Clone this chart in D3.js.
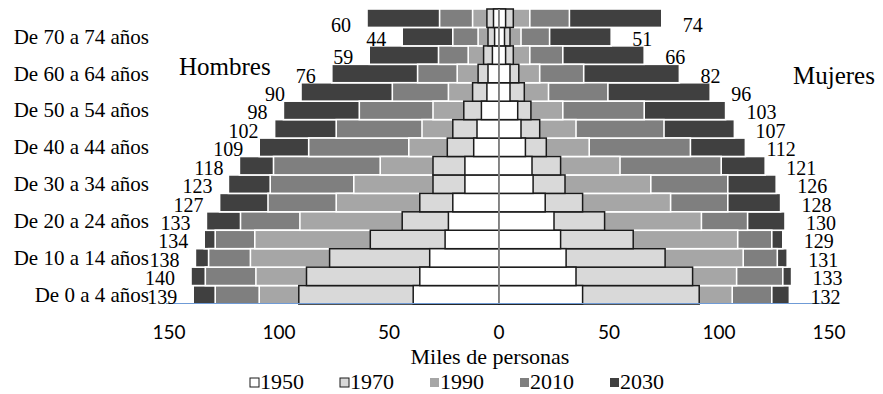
<!DOCTYPE html>
<html>
<head>
<meta charset="utf-8">
<script src="https://cdn.jsdelivr.net/npm/d3@7"></script>
<style>
  body { margin: 0; background: #fff; }
  svg { display: block; }
  text { font-family: "Liberation Serif", "Times New Roman", serif; fill: #000; }
  .tick-label { font-family: Lato, "Liberation Sans", sans-serif; }
</style>
</head>
<body>
<svg class="pyramid" width="883" height="394"></svg>
<script>
// age groups, bottom to top
const ages = ["De 0 a 4 años", "De 5 a 9 años", "De 10 a 14 años", "De 15 a 19 años",
    "De 20 a 24 años", "De 25 a 29 años", "De 30 a 34 años", "De 35 a 39 años",
    "De 40 a 44 años", "De 45 a 49 años", "De 50 a 54 años", "De 55 a 59 años",
    "De 60 a 64 años", "De 65 a 69 años", "De 70 a 74 años", "75 años y más"];
const years = ["1950", "1970", "1990", "2010", "2030"];

// thousands of people, same order as ages
const men1950 = [39, 36, 31.5, 24.5, 23, 21, 15.5, 15.5, 11.5, 10, 8, 5.5, 5, 3, 2, 2.5];
const men1970 = [91, 87.5, 77, 58.5, 44, 36, 30, 30, 23.5, 21, 16, 12, 9.5, 7, 5, 5.5];
const men1990 = [109, 110.5, 113, 111, 90.5, 74, 66, 54, 41, 35, 30, 23, 19, 14, 9.5, 12];
const men2010 = [129, 133.5, 132, 129, 117.5, 105, 104, 102.5, 86.5, 74, 63.5, 48.5, 37, 27.5, 21, 27];
const men2030 = [139, 140, 138, 134, 133, 127, 123, 118, 109, 102, 98, 90, 76, 59, 44, 60];

const women1950 = [38, 35, 30.5, 28, 25, 21, 15.5, 15, 12, 10, 8.5, 5, 5, 3, 2.5, 3];
const women1970 = [91, 88, 75.5, 61, 48, 38, 30, 28, 21.5, 18.5, 14.5, 11.5, 9, 6.5, 5, 6.5];
const women1990 = [106, 108, 111, 108.5, 92, 78, 69, 55, 41, 35, 29, 22.5, 18.5, 14, 10, 14];
const women2010 = [124, 129, 126.5, 124, 113, 104, 104, 101, 87, 75, 66, 49.5, 38.5, 29, 23, 32];
const women2030 = [132, 133, 131, 129, 130, 128, 126, 121, 112, 107, 103, 96, 82, 66, 51, 74];

const xTicks = [-150, -100, -50, 0, 50, 100, 150];
const fills = { "1950": "#ffffff", "1970": "#d9d9d9", "1990": "#a6a6a6", "2010": "#7f7f7f", "2030": "#404040" };

var svg = d3.select("svg.pyramid");

var x = d3.scaleLinear().domain([-150, 150]).range([169, 829]);
var y = d3.scaleBand().domain(ages.slice().reverse()).range([9, 304]).padding(0);

var men = { "1950": men1950, "1970": men1970, "1990": men1990, "2010": men2010, "2030": men2030 };
var women = { "1950": women1950, "1970": women1970, "1990": women1990, "2010": women2010, "2030": women2030 };

// rows for one year: left bar (negative) and right bar
function rowsFor(yr) {
    var out = [];
    ages.forEach(function (a, i) {
        out.push({ age: a, year: yr, v: -men[yr][i] });
        out.push({ age: a, year: yr, v: women[yr][i] });
    });
    return out;
}

function outlined(yr) {
    return yr == "1950" || yr == "1970";
}

// bars overlap from the centre, so the latest (largest) goes at the back
var bars = svg.append("g").attr("class", "bars");
years.slice().reverse().forEach(function (yr) {
    bars.append("g")
        .selectAll("rect")
        .data(rowsFor(yr))
        .enter().append("rect")
        .attr("x", (d) => Math.min(x(0), x(d.v)))
        .attr("y", (d) => y(d.age))
        .attr("width", (d) => Math.abs(x(d.v) - x(0)))
        .attr("height", y.bandwidth())
        .attr("fill", fills[yr])
        .attr("stroke", outlined(yr) ? "#1a1a1a" : "#ffffff")
        .attr("stroke-width", outlined(yr) ? 1.5 : 1.6);
});

// vertical axis line through the middle
svg.append("line")
    .attr("x1", x(0)).attr("x2", x(0))
    .attr("y1", y.range()[0]).attr("y2", y.range()[1])
    .attr("stroke", "#a0a0a0")
    .attr("stroke-width", 1.5);

// bottom axis
svg.append("line")
    .attr("x1", x(-150) - 3).attr("x2", x(150) + 3)
    .attr("y1", y.range()[1] - 0.5).attr("y2", y.range()[1] - 0.5)
    .attr("stroke", "#6f9bd6")
    .attr("stroke-width", 1.2);

svg.append("g")
    .selectAll("text")
    .data(xTicks)
    .enter().append("text")
    .attr("class", "tick-label")
    .attr("x", (d) => x(d))
    .attr("y", 339)
    .attr("text-anchor", "middle")
    .style("font-size", "19px")
    .text((d) => Math.abs(d));

// age labels, every other group
svg.append("g")
    .selectAll("text")
    .data(ages.filter((a, i) => i % 2 == 0))
    .enter().append("text")
    .attr("x", 149)
    .attr("y", (d) => y(d) + y.bandwidth() / 2 + 7)
    .attr("text-anchor", "end")
    .style("font-size", "21px")
    .text((d) => d);

// value labels for 2030 (the top pair sits a little lower)
function labelY(d, i) {
    return y(d.age) + y.bandwidth() / 2 + 9 + (i == ages.length - 1 ? 5 : 0);
}

svg.append("g")
    .selectAll("text")
    .data(ages.map((a, i) => ({ age: a, v: men2030[i] })))
    .enter().append("text")
    .attr("x", (d) => x(-d.v) - 16)
    .attr("y", labelY)
    .attr("text-anchor", "end")
    .style("font-size", "20px")
    .text((d) => d.v);

svg.append("g")
    .selectAll("text")
    .data(ages.map((a, i) => ({ age: a, v: women2030[i] })))
    .enter().append("text")
    .attr("x", (d) => x(d.v) + 21)
    .attr("y", labelY)
    .attr("text-anchor", "start")
    .style("font-size", "20px")
    .text((d) => d.v);

svg.append("text").attr("x", 179).attr("y", 75).style("font-size", "25px").text("Hombres");
svg.append("text").attr("x", 793).attr("y", 84).style("font-size", "25px").text("Mujeres");

svg.append("text")
    .attr("x", 490).attr("y", 364)
    .attr("text-anchor", "middle")
    .style("font-size", "22px")
    .text("Miles de personas");

// legend
var legend = svg.append("g")
    .selectAll("g")
    .data(years)
    .enter().append("g")
    .attr("transform", (d, i) => `translate(${250 + i * 90}, 389)`);

legend.append("rect")
    .attr("x", 0).attr("y", -11)
    .attr("width", 9).attr("height", 9)
    .attr("fill", (d) => fills[d])
    .attr("stroke", (d) => outlined(d) ? "#1a1a1a" : "none")
    .attr("stroke-width", 1);

legend.append("text")
    .attr("x", 10)
    .style("font-size", "22px")
    .text((d) => d);
</script>
</body>
</html>
